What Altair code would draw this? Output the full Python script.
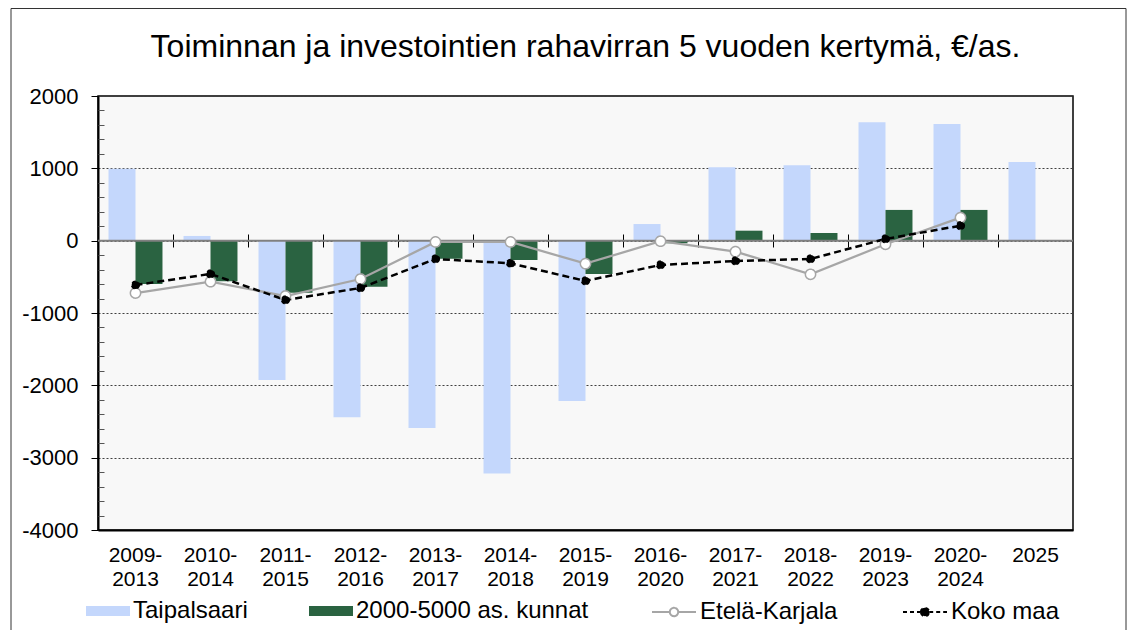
import altair as alt
import pandas as pd

periods = ["2009-2013", "2010-2014", "2011-2015", "2012-2016", "2013-2017", "2014-2018",
           "2015-2019", "2016-2020", "2017-2021", "2018-2022", "2019-2023", "2020-2024", "2025"]
taipalsaari = [995, 65, -1925, -2440, -2590, -3220, -2215, 230, 1015, 1043, 1637, 1614, 1088]
kunnat = [-600, -562, -719, -636, -250, -267, -461, -36, 138, 106, 425, 425, None]
etela_karjala = [-724, -567, -765, -530, -18, -18, -318, -8, -152, -465, -50, 318, None]
koko_maa = [-613, -460, -820, -654, -253, -313, -557, -336, -281, -253, 24, 207, None]

bar_series = ["Taipalsaari", "2000-5000 as. kunnat"]
line_series = ["Etelä-Karjala", "Koko maa"]
bar_colors = ["#c4d7fc", "#2a6341"]
line_strokes = ["#a6a6a6", "#000000"]
point_fills = ["#ffffff", "#000000"]
line_dashes = [[1, 0], [4, 3]]
y_major = [-4000, -3000, -2000, -1000, 0, 1000, 2000]
y_minor = [v for v in range(-4000, 2001, 200) if v % 1000 != 0]

rows = []
for name, vals in zip(bar_series + line_series, [taipalsaari, kunnat, etela_karjala, koko_maa]):
    for p, v in zip(periods, vals):
        if v is not None:
            rows.append({"period": p, "series": name, "value": v})
df = pd.DataFrame(rows)

FONT = "Liberation Sans"
W, H = 975, 434

x_scale = alt.Scale(domain=periods, paddingInner=0, paddingOuter=0)
y_scale = alt.Scale(domain=[-4000, 2000], nice=False, zero=False)

bar_shape = "M-1,-0.23H1V0.23H-1Z"
line_shape = "M-1,0H-0.19M0.19,0H1M-0.19,0A0.19,0.19,0,1,1,0.19,0A0.19,0.19,0,1,1,-0.19,0"

legend_common = dict(title=None, orient="none", direction="horizontal", columns=2,
                     columnPadding=61, symbolSize=1936, labelFont=FONT, labelFontSize=24,
                     labelColor="black", labelOffset=3, labelLimit=400, legendY=493)
bar_legend = alt.Legend(legendX=-12, symbolType=bar_shape, symbolStrokeWidth=0, **legend_common)
line_legend = alt.Legend(legendX=553, symbolType=line_shape, symbolStrokeWidth=2, **legend_common)

x_axis_main = alt.Axis(orient="bottom", title=None, ticks=False, domainColor="black", domainWidth=2,
                       labelFont=FONT, labelFontSize=21, labelColor="black", labelAngle=0,
                       labelPadding=14, labelLineHeight=24, grid=False,
                       labelExpr="indexof(datum.label, '-') > 0 ? [slice(datum.label, 0, 5), slice(datum.label, 5)] : datum.label")
x_axis_zero = alt.Axis(orient="bottom", title=None, labels=False, domain=False, grid=False,
                       bandPosition=0, tickSize=13, tickColor="black", tickWidth=1, offset=-296)
y_axis_main = alt.Axis(orient="left", title=None, values=y_major, labelExpr="toString(datum.value)",
                       labelFont=FONT, labelFontSize=22, labelColor="black", tickSize=7, tickColor="black",
                       domainColor="black", domainWidth=2, grid=True, gridColor="#404040",
                       gridDash=[2, 2], gridWidth=1, labelPadding=13)
y_axis_minor = alt.Axis(orient="left", title=None, values=y_minor, labels=False, domain=False,
                        grid=False, tickSize=6, offset=-6, tickColor="#555555", tickWidth=1)

base = alt.Chart(df)

border = alt.Chart(alt.Data(values=[{}])).mark_rect(fillOpacity=0, stroke="#333333", strokeWidth=1).encode(
    x=alt.value(-87), x2=alt.value(1028), y=alt.value(-87.5), y2=alt.value(560))

bars = base.transform_filter(
    alt.FieldOneOfPredicate(field="series", oneOf=bar_series)
).mark_bar().encode(
    x=alt.X("period:N", scale=x_scale, sort=periods, axis=x_axis_main),
    xOffset=alt.XOffset("series:N", scale=alt.Scale(domain=bar_series, paddingOuter=0.39, paddingInner=0),
                        sort=bar_series),
    y=alt.Y("value:Q", scale=y_scale, axis=y_axis_main),
    color=alt.Color("series:N", scale=alt.Scale(domain=bar_series, range=bar_colors), legend=bar_legend),
)

zero = alt.Chart(alt.Data(values=[{}])).mark_rule(color="#808080", strokeWidth=2).encode(
    y=alt.Y(datum=0, scale=y_scale, axis=None))

ek = base.transform_filter(alt.datum.series == "Etelä-Karjala")
km = base.transform_filter(alt.datum.series == "Koko maa")
lines_df = base.transform_filter(alt.FieldOneOfPredicate(field="series", oneOf=line_series))

ek_line = ek.mark_line(color="#a6a6a6", strokeWidth=2.25).encode(
    x=alt.X("period:N", scale=x_scale, sort=periods, axis=x_axis_zero),
    y=alt.Y("value:Q", scale=y_scale, axis=y_axis_minor))
km_line = km.mark_line(color="black", strokeWidth=2.5, strokeDash=[7, 4]).encode(
    x=alt.X("period:N", scale=x_scale, sort=periods, axis=None),
    y=alt.Y("value:Q", scale=y_scale, axis=None))
pts = lines_df.mark_point(filled=True, strokeWidth=1.5, opacity=1).encode(
    x=alt.X("period:N", scale=x_scale, sort=periods, axis=None),
    y=alt.Y("value:Q", scale=y_scale, axis=None),
    fill=alt.Fill("series:N", scale=alt.Scale(domain=line_series, range=point_fills), legend=line_legend),
    stroke=alt.Stroke("series:N", scale=alt.Scale(domain=line_series, range=line_strokes), legend=line_legend),
    strokeDash=alt.StrokeDash("series:N", scale=alt.Scale(domain=line_series, range=line_dashes), legend=line_legend),
    size=alt.Size("series:N", scale=alt.Scale(domain=line_series[::-1], range=[60, 105]), legend=None),
)

chart = alt.layer(border, bars, zero, ek_line, km_line, pts).resolve_axis(
    x="independent", y="independent"
).properties(
    width=W, height=H,
    autosize=alt.AutoSizeParams(type="none"),
    padding={"left": 90, "top": 88, "right": 55, "bottom": 100},
    background="white",
    title=alt.TitleParams("Toiminnan ja investointien rahavirran 5 vuoden kertymä, €/as.",
                          font=FONT, fontSize=32, fontWeight="normal", color="black",
                          anchor="middle", frame="group", baseline="alphabetic", offset=-81),
).configure_view(fill="#f8f8f8", stroke="black", strokeWidth=1.5)

chart.save("out.html", embed_options={"renderer": "svg", "actions": False})
